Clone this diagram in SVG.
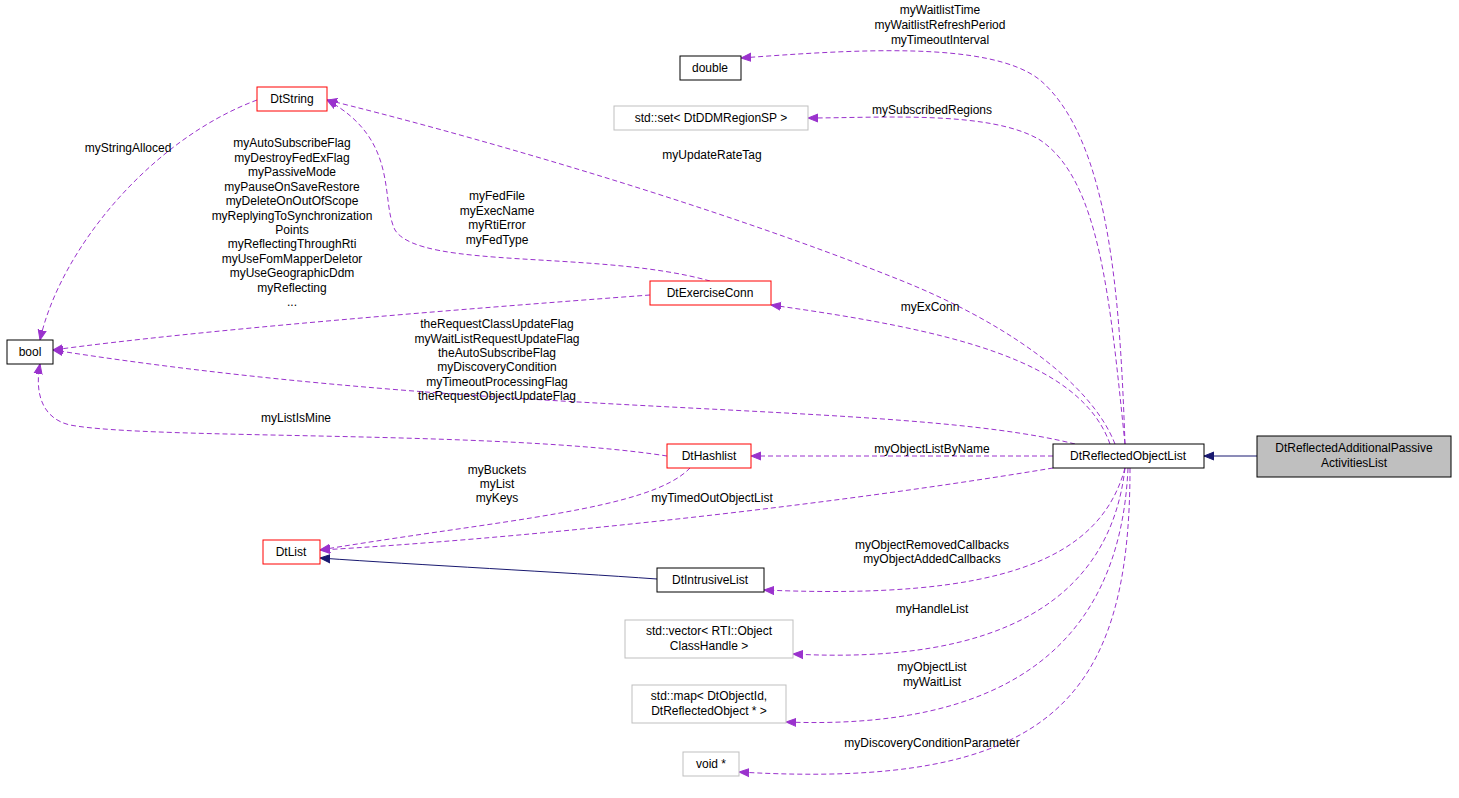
<svg xmlns="http://www.w3.org/2000/svg" width="1459" height="798" viewBox="0 0 1459 798">
<style>
text{font-family:"Liberation Sans",Arial,sans-serif;font-size:12px;fill:#000;text-anchor:middle}
.n{fill:#fff;stroke:#000;stroke-width:1}
.r{fill:#fff;stroke:#f00;stroke-width:1}
.g{fill:#fff;stroke:#bfbfbf;stroke-width:1}
.e{fill:none;stroke:#9a32cd;stroke-dasharray:5,3;stroke-width:1}
.s{fill:none;stroke:#191970;stroke-width:1}
</style>
<defs>
<marker id="p" viewBox="0 0 10 10" refX="10" refY="5" markerWidth="10" markerHeight="10" orient="auto" markerUnits="userSpaceOnUse"><path d="M0,1L10,5L0,9z" fill="#9a32cd" stroke="#9a32cd"/></marker>
<marker id="b" viewBox="0 0 10 10" refX="10" refY="5" markerWidth="10" markerHeight="10" orient="auto" markerUnits="userSpaceOnUse"><path d="M0,1L10,5L0,9z" fill="#191970" stroke="#191970"/></marker>
</defs>
<rect width="1459" height="798" fill="#fff"/>
<g id="connectors">
<path class="s" marker-end="url(#b)" d="M1257,456L1204,456"/>
<path class="s" marker-end="url(#b)" d="M657,579C560,572 420,565 320,558"/>
<path class="e" marker-end="url(#p)" d="M1125,444C1120,300 1110,140 1040,80C990,40 850,50 741,58"/>
<path class="e" marker-end="url(#p)" d="M1125,444C1110,300 1100,180 1040,140C990,110 880,118 808,118"/>
<path class="e" marker-end="url(#p)" d="M1115,444C1090,380 1000,320 900,280C700,200 450,130 327,100"/>
<path class="e" marker-end="url(#p)" d="M1110,444C1080,360 950,330 771,305"/>
<path class="e" marker-end="url(#p)" d="M1075,444C900,400 500,420 53,350"/>
<path class="e" marker-end="url(#p)" d="M1053,456L751,456"/>
<path class="e" marker-end="url(#p)" d="M1053,468C800,510 500,540 320,550"/>
<path class="e" marker-end="url(#p)" d="M1125,468C1100,560 1000,600 764,590"/>
<path class="e" marker-end="url(#p)" d="M1125,468C1110,600 1000,665 793,654"/>
<path class="e" marker-end="url(#p)" d="M1128,468C1120,650 1000,730 786,722"/>
<path class="e" marker-end="url(#p)" d="M1130,468C1130,700 1050,790 739,772"/>
<path class="e" marker-end="url(#p)" d="M257,100C150,140 60,250 40,340"/>
<path class="e" marker-end="url(#p)" d="M710,281C600,250 420,270 395,230C380,200 400,140 327,100"/>
<path class="e" marker-end="url(#p)" d="M650,295C450,310 200,330 53,350"/>
<path class="e" marker-end="url(#p)" d="M667,456C500,430 150,440 70,425C40,418 35,390 40,364"/>
<path class="e" marker-end="url(#p)" d="M690,468C650,510 500,520 320,550"/>
</g>
<g id="labels">
<text x="940" y="14">myWaitlistTime</text>
<text x="940" y="29">myWaitlistRefreshPeriod</text>
<text x="940" y="44">myTimeoutInterval</text>
<text x="932" y="114">mySubscribedRegions</text>
<text x="712" y="159">myUpdateRateTag</text>
<text x="930" y="311">myExConn</text>
<text x="497" y="328">theRequestClassUpdateFlag</text>
<text x="497" y="343">myWaitListRequestUpdateFlag</text>
<text x="497" y="357">theAutoSubscribeFlag</text>
<text x="497" y="371">myDiscoveryCondition</text>
<text x="497" y="386">myTimeoutProcessingFlag</text>
<text x="497" y="400">theRequestObjectUpdateFlag</text>
<text x="932" y="453">myObjectListByName</text>
<text x="712" y="502">myTimedOutObjectList</text>
<text x="932" y="549">myObjectRemovedCallbacks</text>
<text x="932" y="563">myObjectAddedCallbacks</text>
<text x="932" y="613">myHandleList</text>
<text x="932" y="671">myObjectList</text>
<text x="932" y="686">myWaitList</text>
<text x="932" y="747">myDiscoveryConditionParameter</text>
<text x="128" y="152">myStringAlloced</text>
<text x="497" y="200">myFedFile</text>
<text x="497" y="215">myExecName</text>
<text x="497" y="229">myRtiError</text>
<text x="497" y="244">myFedType</text>
<text x="292" y="147">myAutoSubscribeFlag</text>
<text x="292" y="162">myDestroyFedExFlag</text>
<text x="292" y="176">myPassiveMode</text>
<text x="292" y="191">myPauseOnSaveRestore</text>
<text x="292" y="205">myDeleteOnOutOfScope</text>
<text x="292" y="220">myReplyingToSynchronization</text>
<text x="292" y="234">Points</text>
<text x="292" y="248">myReflectingThroughRti</text>
<text x="292" y="263">myUseFomMapperDeletor</text>
<text x="292" y="277">myUseGeographicDdm</text>
<text x="292" y="292">myReflecting</text>
<text x="292" y="306">...</text>
<text x="296" y="422">myListIsMine</text>
<text x="497" y="474">myBuckets</text>
<text x="497" y="488">myList</text>
<text x="497" y="502">myKeys</text>
</g>
<g id="double"><rect class="n" x="680" y="56" width="61" height="24"/><text x="710" y="72">double</text></g>
<g id="stdset"><rect class="g" x="614" y="106" width="194" height="24"/><text x="711" y="122">std::set&lt; DtDDMRegionSP &gt;</text></g>
<g id="DtString"><rect class="r" x="257" y="87" width="70" height="24"/><text x="292" y="103">DtString</text></g>
<g id="bool"><rect class="n" x="7" y="340" width="46" height="24"/><text x="30" y="356">bool</text></g>
<g id="DtExerciseConn"><rect class="r" x="650" y="281" width="121" height="24"/><text x="710" y="297">DtExerciseConn</text></g>
<g id="DtHashlist"><rect class="r" x="667" y="444" width="84" height="24"/><text x="709" y="460">DtHashlist</text></g>
<g id="DtReflectedObjectList"><rect class="n" x="1053" y="444" width="151" height="24"/><text x="1128" y="460">DtReflectedObjectList</text></g>
<g id="DtReflectedAdditionalPassiveActivitiesList"><rect x="1257" y="436" width="194" height="41" fill="#bfbfbf" stroke="#000"/><text x="1354" y="452">DtReflectedAdditionalPassive</text><text x="1354" y="467">ActivitiesList</text></g>
<g id="DtList"><rect class="r" x="263" y="540" width="57" height="24"/><text x="291" y="556">DtList</text></g>
<g id="DtIntrusiveList"><rect class="n" x="657" y="568" width="107" height="24"/><text x="710" y="584">DtIntrusiveList</text></g>
<g id="stdvector"><rect class="g" x="625" y="620" width="168" height="38"/><text x="709" y="635">std::vector&lt; RTI::Object</text><text x="709" y="650">ClassHandle &gt;</text></g>
<g id="stdmap"><rect class="g" x="632" y="685" width="154" height="38"/><text x="709" y="700">std::map&lt; DtObjectId,</text><text x="709" y="715">DtReflectedObject * &gt;</text></g>
<g id="void"><rect class="g" x="683" y="752" width="56" height="24"/><text x="711" y="768">void *</text></g>
</svg>
